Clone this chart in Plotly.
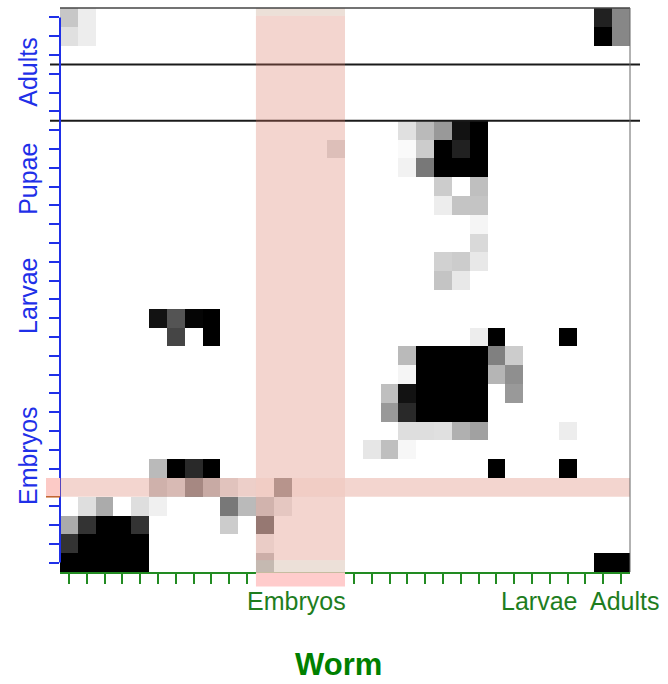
import plotly.graph_objects as go

# ---------------- data ----------------
n_rows = 30
n_cols = 32

cell_rows = [0, 0, 0, 0,
             1, 1, 1, 1,
             6, 6, 6, 6, 6,
             7, 7, 7, 7, 7, 7,
             8, 8, 8, 8, 8,
             9, 9,
             10, 10, 10,
             11,
             12,
             13, 13, 13,
             14, 14,
             16, 16, 16, 16,
             17, 17, 17, 17, 17,
             18, 18, 18, 18, 18, 18, 18,
             19, 19, 19, 19, 19, 19, 19,
             20, 20, 20, 20, 20, 20, 20,
             21, 21, 21, 21, 21, 21,
             22, 22, 22, 22, 22, 22,
             23, 23, 23,
             24, 24, 24, 24, 24, 24,
             25, 25, 25, 25, 25, 25, 25,
             26, 26, 26, 26, 26, 26, 26, 26,
             27, 27, 27, 27, 27, 27, 27,
             28, 28, 28, 28, 28, 28,
             29, 29, 29, 29, 29, 29, 29, 29]
cell_cols = [0, 1, 30, 31,
             0, 1, 30, 31,
             19, 20, 21, 22, 23,
             15, 19, 20, 21, 22, 23,
             19, 20, 21, 22, 23,
             21, 23,
             21, 22, 23,
             23,
             23,
             21, 22, 23,
             21, 22,
             5, 6, 7, 8,
             6, 8, 23, 24, 28,
             19, 20, 21, 22, 23, 24, 25,
             19, 20, 21, 22, 23, 24, 25,
             18, 19, 20, 21, 22, 23, 25,
             18, 19, 20, 21, 22, 23,
             19, 20, 21, 22, 23, 28,
             17, 18, 19,
             5, 6, 7, 8, 24, 28,
             5, 6, 7, 8, 9, 10, 12,
             1, 2, 4, 5, 9, 10, 11, 12,
             0, 1, 2, 3, 4, 9, 11,
             0, 1, 2, 3, 4, 11,
             0, 1, 2, 3, 4, 11, 30, 31]
cell_vals = [0.22, 0.07, 0.87, 0.47,
             0.12, 0.07, 1.0, 0.47,
             0.12, 0.27, 0.40, 0.93, 1.0,
             0.12, 0.02, 0.20, 1.0, 0.87, 1.0,
             0.05, 0.53, 1.0, 1.0, 1.0,
             0.20, 0.25,
             0.07, 0.23, 0.23,
             0.04,
             0.15,
             0.18, 0.20, 0.09,
             0.23, 0.09,
             0.93, 0.67, 0.98, 1.0,
             0.73, 1.0, 0.07, 1.0, 1.0,
             0.27, 1.0, 1.0, 1.0, 1.0, 0.50, 0.20,
             0.04, 1.0, 1.0, 1.0, 1.0, 0.29, 0.44,
             0.25, 0.93, 1.0, 1.0, 1.0, 1.0, 0.40,
             0.40, 0.84, 1.0, 1.0, 1.0, 1.0,
             0.13, 0.13, 0.12, 0.31, 0.37, 0.07,
             0.10, 0.25, 0.03,
             0.27, 1.0, 0.84, 1.0, 1.0, 1.0,
             0.20, 0.15, 0.43, 0.24, 0.10, 0.03, 0.35,
             0.13, 0.33, 0.13, 0.06, 0.53, 0.27, 0.19, 0.08,
             0.33, 0.80, 1.0, 1.0, 0.80, 0.20, 0.52,
             0.80, 1.0, 1.0, 1.0, 1.0, 0.05,
             1.0, 1.0, 1.0, 1.0, 1.0, 0.22, 1.0, 1.0]

y_group_labels = ["Adults", "Pupae", "Larvae", "Embryos"]
y_group_pos = [2.89, 8.59, 14.82, 23.28]
x_group_labels = ["Embryos", "Larvae", "Adults"]
x_group_pos = [12.8, 26.4, 31.2]
title_text = "Worm"

sep_rows = [2.5, 5.5]          # horizontal separator lines
hl_cols = (11, 15)             # highlighted column block
hl_row = 25                    # highlighted row

# ---------------- build matrix ----------------
z = [[0.0] * n_cols for _ in range(n_rows)]
for r, c, v in zip(cell_rows, cell_cols, cell_vals):
    z[r][c] = v

W, H = 668, 684
ML, MR, MT, MB = 60, 38.4, 8.3, 112.3
pw = W - ML - MR
ph = H - MT - MB
cw = pw / n_cols
rh = ph / n_rows


def px(c):
    return (c + 0.5) / n_cols


def py(r):
    return 1 - (r + 0.5) / n_rows


BLUE = "#1f30e8"
GREEN = "#228B22"
GREEN_T = "#1e7d1e"
PINK = "rgba(215,115,95,0.30)"
BEIGE = "rgba(192,152,125,0.30)"
FONT = "Liberation Sans, Arial"

fig = go.Figure(go.Heatmap(
    z=z, x=list(range(n_cols)), y=list(range(n_rows)),
    colorscale=[[0, "white"], [1, "black"]], zmin=0, zmax=1,
    showscale=False, hoverinfo="skip"))

shapes = []
for s in sep_rows:
    shapes.append(dict(type="line", xref="paper", yref="paper",
                       x0=px(-0.5 - 10 / cw), x1=px(n_cols - 0.5 + 10 / cw),
                       y0=py(s), y1=py(s), line=dict(color="#1a1a1a", width=2),
                       layer="above"))
shapes.append(dict(type="line", xref="paper", yref="paper", x0=0, x1=0,
                   y0=py(0), y1=py(n_rows - 1), line=dict(color=BLUE, width=2),
                   layer="above"))
c0, c1 = hl_cols[0] - 0.5, hl_cols[1] + 0.5
band_top = -0.5 + 7.7 / rh
band_bot = n_rows - 0.5 - 11.7 / rh
shapes.append(dict(type="rect", xref="paper", yref="paper", x0=px(c0), x1=px(c1),
                   y0=py(band_top), y1=py(band_bot), fillcolor=PINK, line_width=0,
                   layer="above"))
shapes.append(dict(type="rect", xref="paper", yref="paper", x0=px(c0), x1=px(c1),
                   y0=py(-0.5), y1=py(band_top), fillcolor=BEIGE, line_width=0,
                   layer="above"))
shapes.append(dict(type="rect", xref="paper", yref="paper", x0=px(c0), x1=px(c1),
                   y0=py(band_bot), y1=py(n_rows - 0.5), fillcolor=BEIGE, line_width=0,
                   layer="above"))
r0, r1 = hl_row - 0.5, hl_row + 0.5
shapes.append(dict(type="rect", xref="paper", yref="paper", x0=px(-0.5), x1=px(c0),
                   y0=py(r0), y1=py(r1), fillcolor=PINK, line_width=0, layer="above"))
shapes.append(dict(type="rect", xref="paper", yref="paper", x0=px(c1), x1=px(n_cols - 0.5),
                   y0=py(r0), y1=py(r1), fillcolor=PINK, line_width=0, layer="above"))
shapes.append(dict(type="rect", xref="paper", yref="paper", x0=px(c0), x1=px(c1),
                   y0=py(r0), y1=py(r1), fillcolor="rgba(215,115,95,0.08)", line_width=0,
                   layer="above"))
shapes.append(dict(type="rect", xref="paper", yref="paper", x0=px(-0.5 - 14 / cw),
                   x1=px(-0.5), y0=py(r0), y1=py(r1), fillcolor="#fccac6",
                   line_width=0, layer="above"))
shapes.append(dict(type="line", xref="paper", yref="paper", x0=px(-0.5 - 14 / cw),
                   x1=px(-0.5), y0=py(r1), y1=py(r1), line=dict(color="#c0602a", width=1.5),
                   layer="above"))
shapes.append(dict(type="rect", xref="paper", yref="paper", x0=px(c0), x1=px(c1),
                   y0=py(n_rows - 0.5) - 0.3 / ph, y1=py(n_rows - 0.5) - 14.5 / ph,
                   fillcolor="#ffcccc", line_width=0, layer="above"))
shapes.append(dict(type="line", xref="paper", yref="paper", x0=0, x1=1,
                   y0=1, y1=1, line=dict(color="#444444", width=1.5), layer="above"))
shapes.append(dict(type="line", xref="paper", yref="paper", x0=1, x1=1,
                   y0=1, y1=0, line=dict(color="#666666", width=1), layer="above"))

annotations = []
for lab, pos in zip(y_group_labels, y_group_pos):
    annotations.append(dict(text=lab, xref="paper", yref="paper", x=-32 / pw, y=py(pos),
                            xanchor="center", yanchor="middle", textangle=-90,
                            showarrow=False,
                            font=dict(family=FONT, size=25, color=BLUE)))
for lab, pos in zip(x_group_labels, x_group_pos):
    annotations.append(dict(text=lab, xref="paper", yref="paper", x=px(pos), y=-29 / ph,
                            xanchor="center", yanchor="middle", showarrow=False,
                            font=dict(family=FONT, size=25, color=GREEN_T)))
annotations.append(dict(text="<b>" + title_text + "</b>", xref="paper", yref="paper",
                        x=(338 - ML) / pw, y=-(664 - MT - ph) / ph,
                        xanchor="center", yanchor="middle", showarrow=False,
                        font=dict(family=FONT, size=31, color="#008000")))

fig.update_layout(
    width=W, height=H, margin=dict(l=ML, r=MR, t=MT, b=MB, pad=0),
    paper_bgcolor="white", plot_bgcolor="white",
    shapes=shapes, annotations=annotations, showlegend=False,
    xaxis=dict(range=[-0.5, n_cols - 0.5], tickvals=list(range(n_cols)),
               showticklabels=False, ticks="outside", ticklen=10, tickwidth=2,
               tickcolor=GREEN, showline=True, linecolor=GREEN, linewidth=2,
               showgrid=False, zeroline=False, fixedrange=True),
    yaxis=dict(range=[n_rows - 0.5, -0.5], tickvals=list(range(n_rows)),
               showticklabels=False, ticks="outside", ticklen=10, tickwidth=2,
               tickcolor=BLUE, showline=False, showgrid=False, zeroline=False,
               fixedrange=True),
)

fig.write_html("out.html")
